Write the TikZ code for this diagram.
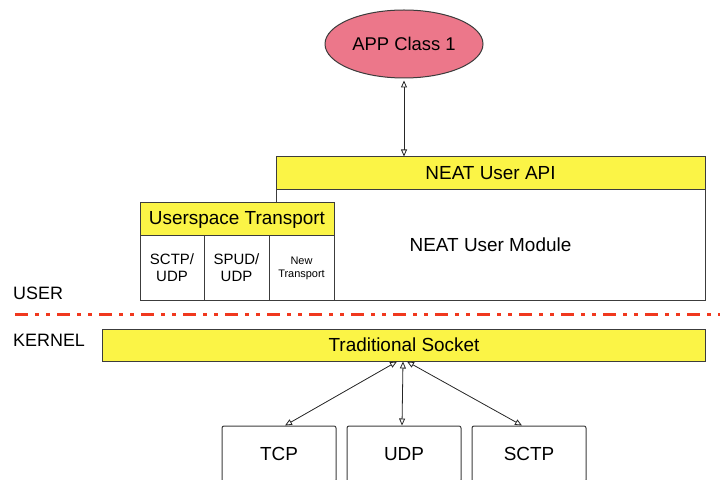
\documentclass[tikz,border=0pt]{standalone}
\usepackage{fontspec}
\setmainfont{Liberation Sans}
\usetikzlibrary{shapes.geometric,arrows.meta}
\definecolor{appred}{RGB}{236,119,138}
\definecolor{apiyellow}{RGB}{251,244,70}
\definecolor{lineborder}{RGB}{60,60,60}
\definecolor{splitred}{RGB}{240,56,30}
\tikzset{
    box/.style={rectangle, draw=lineborder, fill=white, line width=1bp, inner sep=0pt, align=center, font=\fontsize{19}{21}\selectfont},
    bar/.style={box, fill=apiyellow},
    cell/.style={box, minimum height=64bp, font=\fontsize{15}{17}\selectfont},
    proto/.style={box, rounded corners=2bp, minimum width=114bp, minimum height=56bp},
    biarrow/.style={draw=black!85, line width=0.8bp, {Triangle[open,length=7bp,width=6bp]}-{Triangle[open,length=7bp,width=6bp]}},
    layer/.style={anchor=west, inner sep=0pt, font=\fontsize{18}{20}\selectfont},
    boundary/.style={draw=splitred, line width=3bp, dash pattern=on 13bp off 7bp on 4bp off 7bp on 4bp off 7bp}
}
\begin{document}
\begin{tikzpicture}[x=1bp, y=-1bp]
        \useasboundingbox (0, 0) rectangle (720, 480);

        \node[ellipse, draw=lineborder, line width=1bp, fill=appred, minimum width=158bp, minimum height=68bp, font=\fontsize{18.5}{20}\selectfont] (app) at (404, 44) {APP Class 1};

        \node[box, minimum width=429bp, minimum height=110bp] (module) at (490.5, 245) {NEAT User Module};
        \node[bar, minimum width=429bp, minimum height=33bp] (api) at (490.5, 173.5) {NEAT User API};

        \node[bar, minimum width=194bp, minimum height=33bp] (ust) at (237, 219.5) {Userspace Transport};
        \node[cell, minimum width=64bp] (sctpudp) at (172, 268) {SCTP/\\UDP};
        \node[cell, minimum width=65bp] (spududp) at (236.5, 268) {SPUD/\\UDP};
        \node[cell, minimum width=65bp, font=\fontsize{11}{13}\selectfont] (newtr) at (301.5, 268) {New\\Transport};

        \node[layer] (user) at (13, 293) {USER};
        \coordinate (splitL) at (15, 314);
        \coordinate (splitR) at (720, 314);
        \draw[boundary] (splitL) -- (splitR);
        \node[layer] (kernel) at (13, 340) {KERNEL};

        \node[bar, minimum width=602bp, minimum height=32bp] (sock) at (404, 345) {Traditional Socket};

        \node[proto] (tcp) at (279, 454) {TCP};
        \node[proto] (udp) at (404, 454) {UDP};
        \node[proto] (sctp) at (529, 454) {SCTP};

        \draw[biarrow, shorten <=2bp] (app.south) -- (app.south |- api.north);
        \draw[biarrow] ([xshift=-7bp]sock.south) -- ([xshift=6bp]tcp.north);
        \draw[biarrow] ([xshift=-1bp]sock.south) -- ([xshift=-2bp]udp.north);
        \draw[biarrow] ([xshift=3bp]sock.south) -- ([xshift=-7bp]sctp.north);

    \end{tikzpicture}
\end{document}
